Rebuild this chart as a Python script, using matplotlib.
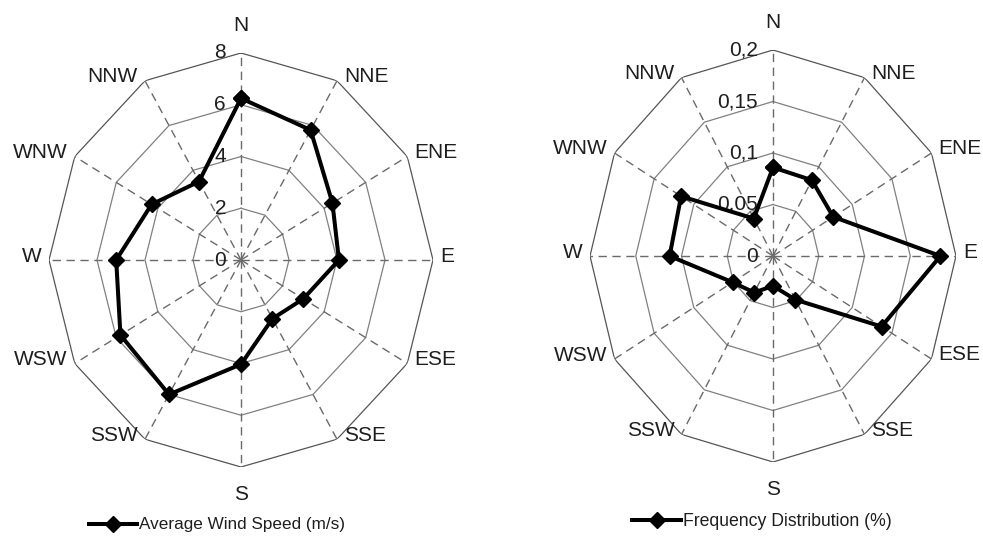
import numpy as np
import matplotlib
matplotlib.use("Agg")
import matplotlib.pyplot as plt
from matplotlib.lines import Line2D

plt.rcParams['font.family'] = ['Liberation Sans', 'DejaVu Sans']

directions = ["N", "NNE", "ENE", "E", "ESE", "SSE", "S", "SSW", "WSW", "W", "WNW", "NNW"]
wind_speed = [6.25, 5.8, 4.4, 4.08, 3.0, 2.62, 4.03, 6.0, 5.8, 5.2, 4.3, 3.5]
frequency = [0.086, 0.085, 0.076, 0.183, 0.137, 0.049, 0.029, 0.041, 0.051, 0.113, 0.116, 0.042]
speed_ticks = [0, 2, 4, 6, 8]
speed_ticklabels = ["0", "2", "4", "6", "8"]
freq_ticks = [0, 0.05, 0.1, 0.15, 0.2]
freq_ticklabels = ["0", "0,05", "0,1", "0,15", "0,2"]
legend_speed = "Average Wind Speed (m/s)"
legend_freq = "Frequency Distribution (%)"

W, H = 983, 537
fig = plt.figure(figsize=(W / 100, H / 100), dpi=100)

TEXT = "#1e1e1e"


def radar(rect, values, ticks, ticklabels):
    ax = fig.add_axes(rect, projection="polar")
    ax.set_aspect("auto")
    ax.set_theta_zero_location("N")
    ax.set_theta_direction(-1)
    rmax = ticks[-1]
    ax.set_ylim(0, rmax)
    ax.grid(False)
    ax.spines["polar"].set_visible(False)
    ax.set_xticks([])
    ax.set_yticks([])
    ax.patch.set_alpha(0)
    n = len(directions)
    theta = np.arange(n) * 2 * np.pi / n
    closed_theta = np.append(theta, theta[0])
    # polygon rings
    for r in ticks[1:]:
        col = "#555555" if r == rmax else "#808080"
        ax.plot(closed_theta, [r] * (n + 1), color=col, lw=0.9, zorder=1)
    # dashed spokes
    for t in theta:
        ax.plot([t, t], [0, rmax], color="#6a6a6a", lw=1.0, ls=(0, (6, 4)), zorder=1)
    # data
    vals = list(values) + [values[0]]
    ax.plot(closed_theta, vals, color="black", lw=2.9, marker="D", ms=8,
            zorder=3, clip_on=False)
    # radial tick labels
    for r, lab in zip(ticks, ticklabels):
        ax.annotate(lab, xy=(0, r), xytext=(-15, 0), textcoords="offset pixels",
                    ha="right", va="center", fontsize=15, color=TEXT,
                    annotation_clip=False, zorder=2)
    # category labels
    for t, lab in zip(theta, directions):
        s, c = np.sin(t), np.cos(t)
        if abs(s) < 0.1:
            ha = "center"
            va = "bottom" if c > 0 else "top"
            off = (0, 18 if c > 0 else -18)
        else:
            ha = "left" if s > 0 else "right"
            va = "center"
            off = (7 * np.sign(s), 4)
        ax.annotate(lab, xy=(t, rmax), xytext=off, textcoords="offset pixels",
                    ha=ha, va=va, fontsize=15, color=TEXT, annotation_clip=False)
    return ax


ax1 = radar([49 / W, 70 / H, 384 / W, 414 / H], wind_speed, speed_ticks, speed_ticklabels)
ax2 = radar([590 / W, 75 / H, 366 / W, 412 / H], frequency, freq_ticks, freq_ticklabels)

h = Line2D([], [], color="black", lw=2.9, marker="D", ms=8)
fig.legend([h], [legend_speed], loc="center", bbox_to_anchor=(217 / W, 12 / H),
           frameon=False, fontsize=12.3, handlelength=2.8, handletextpad=0.1,
           labelcolor=TEXT)
fig.legend([h], [legend_freq], loc="center", bbox_to_anchor=(762 / W, 15 / H),
           frameon=False, handlelength=2.8, handletextpad=0.1, labelcolor=TEXT,
           fontsize=12.7)

fig.savefig("out.png", dpi=100)
